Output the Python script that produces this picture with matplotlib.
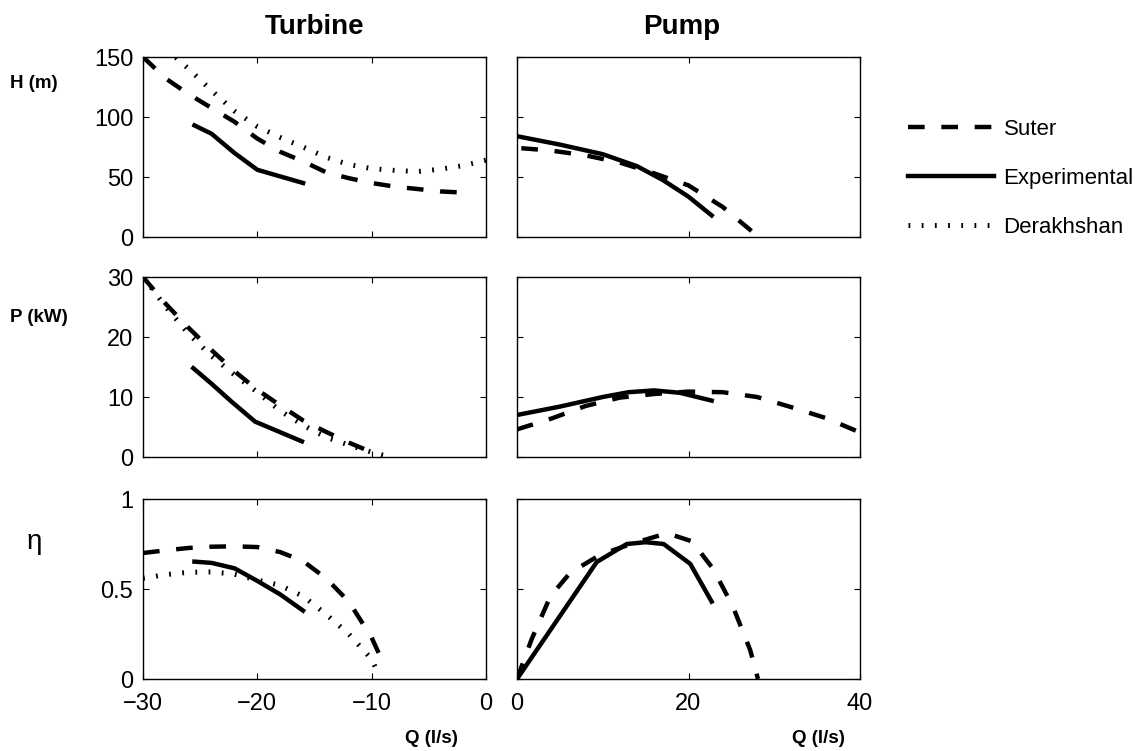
import numpy as np
import matplotlib.pyplot as plt

plt.rcParams['font.family'] = ['Liberation Sans', 'DejaVu Sans']
plt.rcParams['lines.scale_dashes'] = False

# ---- Turbine side (Q < 0) ----
# head H (m)
q_t_suter_h = [-30, -28, -26, -24, -22, -20, -18, -16, -14, -12, -10, -8, -6, -4, -2, -1.4]
h_t_suter = [150, 132, 119, 107.5, 96, 82, 71, 63, 54, 49, 45, 42, 40, 38, 37, 36.7]
q_t_exp_h = [-25.5, -24, -22, -20, -16]
h_t_exp = [93, 86, 70, 56, 45]
q_t_der_h = [-28, -26, -24, -22, -20, -18, -16, -14, -12, -10, -8, -6, -4, -2, 0]
h_t_der = [157, 140, 122, 105, 92, 83, 75, 66.5, 60.4, 57, 55.5, 54.5, 56.5, 59.5, 64]

# power P (kW)
q_t_suter_p = [-30, -28, -26, -24, -22, -20, -18, -16, -14, -12, -10, -9.8]
p_t_suter = [30, 25.5, 21.5, 17.8, 14.3, 11.2, 8.6, 6.1, 4.2, 2.4, 0.8, 0.6]
q_t_exp_p = [-25.6, -24, -22.3, -20.2, -16.1]
p_t_exp = [14.8, 12.2, 9.3, 5.9, 2.6]
q_t_der_p = [-30, -28, -26, -24, -22, -20, -18, -16, -14, -12, -10, -9]
p_t_der = [30, 25, 20.5, 16.8, 13.7, 10.8, 7.7, 5.3, 3.3, 2.0, 0.8, 0.3]

# efficiency
q_t_suter_e = [-30, -28, -26, -24, -22, -20, -18, -16, -14, -12, -10, -9]
e_t_suter = [0.70, 0.715, 0.728, 0.735, 0.737, 0.733, 0.705, 0.655, 0.56, 0.43, 0.23, 0.09]
q_t_exp_e = [-25.5, -24, -22, -20, -18, -16]
e_t_exp = [0.652, 0.645, 0.615, 0.545, 0.47, 0.38]
q_t_der_e = [-30, -28, -26, -24, -22, -20, -18, -16, -14, -12, -10, -9.5]
e_t_der = [0.56, 0.58, 0.593, 0.595, 0.582, 0.55, 0.52, 0.46, 0.36, 0.25, 0.11, 0.04]

# ---- Pump side (Q > 0) ----
q_p_suter_h = [0.5, 4, 8, 12, 16, 20, 24, 26, 28.2]
h_p_suter = [74, 72, 68, 62, 53, 43, 25, 13, 0]
q_p_exp_h = [0, 5, 10, 14, 17, 20, 22.7]
h_p_exp = [84, 77, 69, 59, 47.5, 33.6, 18]

q_p_suter_p = [0, 4, 8, 12, 16, 20, 24, 28, 32, 36, 40]
p_p_suter = [4.6, 6.4, 8.5, 9.9, 10.5, 10.9, 10.8, 10.0, 8.3, 6.5, 4.1]
q_p_exp_p = [0, 5, 10, 13, 16, 19, 22.7]
p_p_exp = [7, 8.4, 10, 10.8, 11.1, 10.7, 9.4]

q_p_suter_e = [0, 1.7, 3.9, 6.2, 9.7, 13.6, 17.5, 20.4, 22.9, 25.2, 27.2, 28.1]
e_p_suter = [0, 0.22, 0.46, 0.59, 0.69, 0.755, 0.81, 0.765, 0.61, 0.40, 0.16, 0.0]
q_p_exp_e = [0, 9.3, 12.8, 15, 17.1, 20.2, 22.7]
e_p_exp = [0, 0.65, 0.75, 0.76, 0.75, 0.64, 0.43]

y_lims = [(0, 150), (0, 30), (0, 1)]
y_ticks = [[0, 50, 100, 150], [0, 10, 20, 30], [0, 0.5, 1]]
y_ticklabels = [['0', '50', '100', '150'], ['0', '10', '20', '30'], ['0', '0.5', '1']]

dashed = dict(color='black', lw=3.2, ls=(0, (12, 12)))
solid = dict(color='black', lw=3.2, ls='-')
dotted = dict(color='black', lw=3.6, ls=(0, (1.3, 8.2)))

fig = plt.figure(figsize=(11.41, 7.51), dpi=100)
W, H = 1141, 751
col_left = [143 / W, 517 / W]
ax_w = 343 / W
ax_h = 180 / H
row_bottom = [1 - 237 / H, 1 - 457 / H, 1 - 679 / H]

axes = [[None, None] for _ in range(3)]
for r in range(3):
    for c in range(2):
        ax = fig.add_axes([col_left[c], row_bottom[r], ax_w, ax_h])
        axes[r][c] = ax
        ax.set_ylim(*y_lims[r])
        ax.set_yticks(y_ticks[r])
        if c == 0:
            ax.set_xlim(-30, 0)
            ax.set_xticks([-30, -20, -10, 0])
            ax.set_yticklabels(y_ticklabels[r])
        else:
            ax.set_xlim(0, 40)
            ax.set_xticks([0, 20, 40])
            ax.tick_params(labelleft=False)
        ax.tick_params(direction='in', top=True, right=True, length=4, width=0.8,
                       labelsize=17, pad=7)
        ax.tick_params(axis='x', pad=10)
        if r < 2:
            ax.tick_params(labelbottom=False)
        for s in ax.spines.values():
            s.set_linewidth(1.0)

# turbine
ax = axes[0][0]
l_suter, = ax.plot(q_t_suter_h, h_t_suter, **dashed)
l_exp, = ax.plot(q_t_exp_h, h_t_exp, **solid)
l_der, = ax.plot(q_t_der_h, h_t_der, **dotted)
axes[1][0].plot(q_t_suter_p, p_t_suter, **dashed)
axes[1][0].plot(q_t_exp_p, p_t_exp, **solid)
axes[1][0].plot(q_t_der_p, p_t_der, **dotted)
axes[2][0].plot(q_t_suter_e, e_t_suter, **dashed)
axes[2][0].plot(q_t_exp_e, e_t_exp, **solid)
axes[2][0].plot(q_t_der_e, e_t_der, **dotted)

# pump
axes[0][1].plot(q_p_suter_h, h_p_suter, **dashed)
axes[0][1].plot(q_p_exp_h, h_p_exp, **solid)
axes[1][1].plot(q_p_suter_p, p_p_suter, **dashed)
axes[1][1].plot(q_p_exp_p, p_p_exp, **solid)
axes[2][1].plot(q_p_suter_e, e_p_suter, **dashed)
axes[2][1].plot(q_p_exp_e, e_p_exp, **solid)

# titles and labels
fig.text(314.5 / W, 1 - 34 / H, 'Turbine', ha='center', va='baseline',
         fontsize=20, fontweight='bold')
fig.text(682 / W, 1 - 34 / H, 'Pump', ha='center', va='baseline',
         fontsize=20, fontweight='bold')
fig.text(10 / W, 1 - 88 / H, 'H (m)', ha='left', va='baseline',
         fontsize=13.5, fontweight='bold')
fig.text(10 / W, 1 - 322 / H, 'P (kW)', ha='left', va='baseline',
         fontsize=13.5, fontweight='bold')
fig.text(27 / W, 1 - 549 / H, 'η', ha='left', va='baseline', fontsize=20)
fig.text(458 / W, 1 - 743 / H, 'Q (l/s)', ha='right', va='baseline',
         fontsize=13.5, fontweight='bold')
fig.text(845 / W, 1 - 743 / H, 'Q (l/s)', ha='right', va='baseline',
         fontsize=13.5, fontweight='bold')

fig.legend([l_suter, l_exp, l_der], ['Suter', 'Experimental', 'Derakhshan'],
           loc='upper left', bbox_to_anchor=(908 / W, 1 - 119 / H),
           frameon=False, fontsize=16, handlelength=3.85, handletextpad=0.45,
           labelspacing=1.25, borderpad=0, borderaxespad=0)

fig.savefig('out.png', dpi=100)
